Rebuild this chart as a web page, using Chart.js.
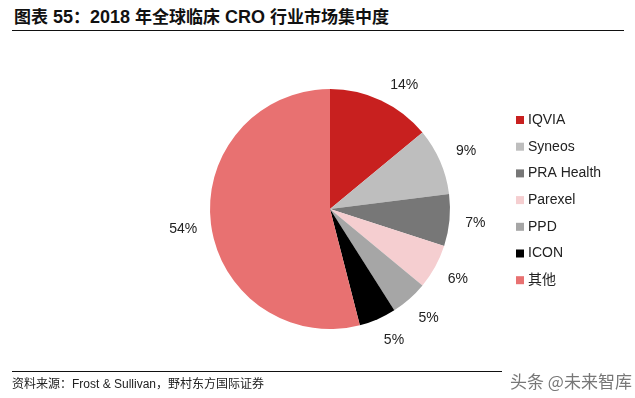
<!DOCTYPE html>
<html>
<head>
<meta charset="utf-8">
<script src="https://cdn.jsdelivr.net/npm/chart.js@4"></script>
<style>
    html, body { margin: 0; padding: 0; background: #fff; }
    #wrap { position: relative; width: 635px; height: 398px; overflow: hidden; }
    #chart { position: absolute; left: 0; top: 0; }
    .title {
        position: absolute; left: 14px; top: 3px;
        font-family: "Noto Sans CJK SC", sans-serif;
        font-weight: bold; font-size: 17px; color: #111; white-space: nowrap;
    }
    .title .lat { font-family: "Liberation Sans", Arial, sans-serif; font-size: 18px; }
    .rule { position: absolute; left: 12px; height: 0; border-top: 1.5px solid #111; }
    .source {
        position: absolute; left: 12px; top: 374px;
        font-family: "Liberation Sans", "Noto Sans CJK SC", sans-serif;
        font-size: 12px; color: #222; white-space: nowrap;
    }
    .mark {
        position: absolute; left: 510px; top: 368px;
        font-family: "Noto Sans CJK SC", sans-serif;
        font-size: 17px; color: #555; white-space: nowrap; opacity: 0.8;
    }
</style>
</head>
<body>
<div id="wrap">
    <div class="title">图表<span class="lat"> 55</span>：<span class="lat">2018 </span>年全球临床<span class="lat"> CRO </span>行业市场集中度</div>
    <div class="rule" style="top:30px; width:612px;"></div>
    <canvas id="chart" width="635" height="398"></canvas>
    <div class="rule" style="top:371px; width:490px;"></div>
    <div class="source">资料来源：Frost &amp; Sullivan，野村东方国际证券</div>
    <div class="mark">头条 @未来智库</div>
</div>
<script>
const companies = ['IQVIA', 'Syneos', 'PRA Health', 'Parexel', 'PPD', 'ICON', '其他'];
const shares = [14, 9, 7, 6, 5, 5, 54];
const colors = ['#C8201F', '#BEBEBE', '#777777', '#F5CED0', '#A6A6A6', '#000000', '#E87171'];

// small hand nudges for the outside labels (x, y)
const labelNudge = [[12, 8], [2, 0], [0, 0], [0, 0], [2, 0], [6, -3], [-2, 2]];

// percentage labels outside each slice
const outsideLabels = {
    id: 'outsideLabels',
    afterDatasetsDraw(chart) {
        const ctx = chart.ctx;
        const arcs = chart.getDatasetMeta(0).data;
        ctx.save();
        ctx.font = '14px "Liberation Sans", Arial, sans-serif';
        ctx.fillStyle = '#222';
        ctx.textAlign = 'center';
        ctx.textBaseline = 'middle';
        arcs.forEach(function (arc, i) {
            const mid = (arc.startAngle + arc.endAngle) / 2;
            const r = arc.outerRadius + 26;
            ctx.fillText(shares[i] + '%',
                arc.x + Math.cos(mid) * r + labelNudge[i][0],
                arc.y + Math.sin(mid) * r + labelNudge[i][1]);
        });
        ctx.restore();
    }
};

// legend on the right
const sideLegend = {
    id: 'sideLegend',
    afterDraw(chart) {
        const ctx = chart.ctx;
        ctx.save();
        ctx.font = '14px "Liberation Sans", Arial, "Noto Sans CJK SC", sans-serif';
        ctx.textBaseline = 'middle';
        companies.forEach(function (name, i) {
            const y = 120 + i * 26.7;
            ctx.fillStyle = colors[i];
            ctx.fillRect(516, y - 4, 8, 8);
            ctx.fillStyle = '#222';
            ctx.fillText(name, 528, y);
        });
        ctx.restore();
    }
};

new Chart(document.getElementById('chart').getContext('2d'), {
    type: 'pie',
    data: {
        labels: companies,
        datasets: [{
            data: shares,
            backgroundColor: colors,
            borderWidth: 0
        }]
    },
    options: {
        responsive: false,
        animation: false,
        layout: {
            padding: { left: 210, right: 185, top: 89, bottom: 69 }
        },
        plugins: {
            legend: { display: false },
            tooltip: { enabled: false }
        }
    },
    plugins: [outsideLabels, sideLegend]
});
</script>
</body>
</html>
